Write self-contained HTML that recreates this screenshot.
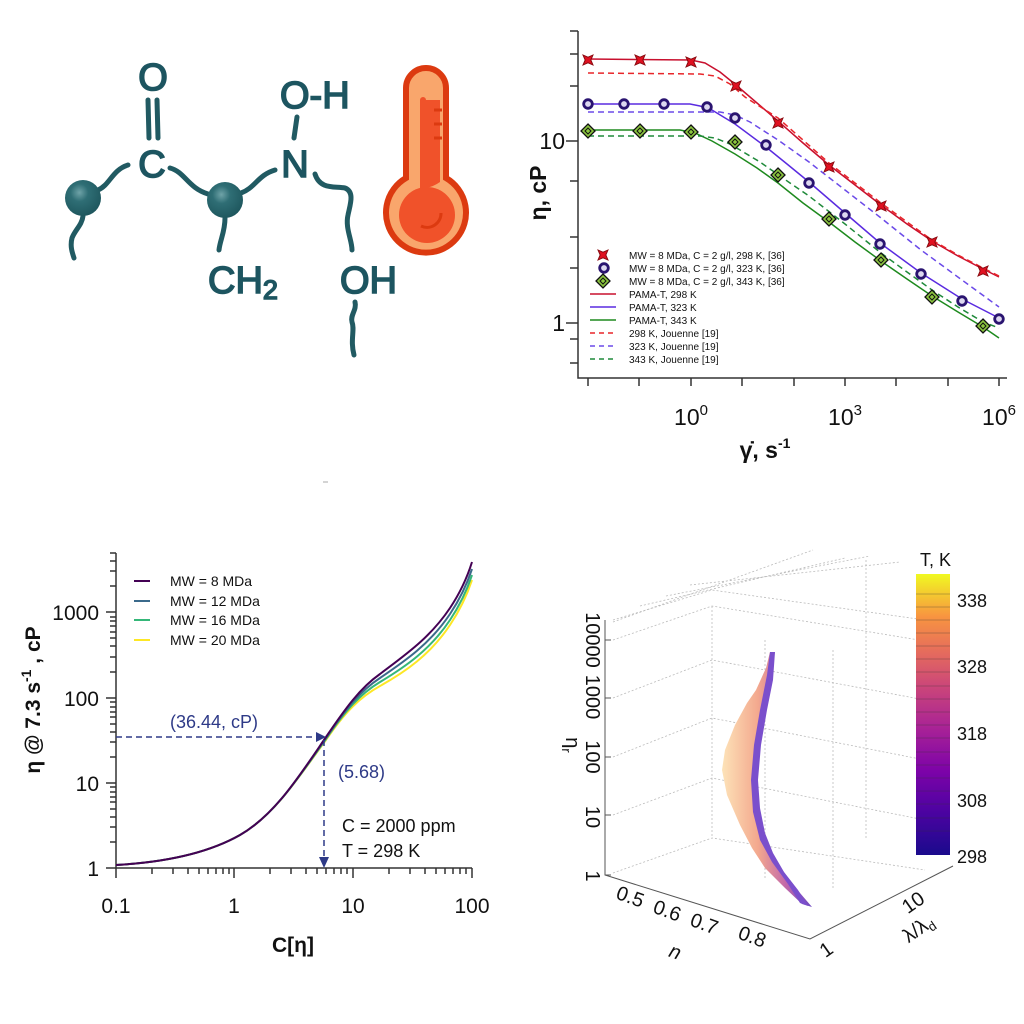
<!DOCTYPE html>
<html><head><meta charset="utf-8">
<style>
html,body{margin:0;padding:0;background:#fff;}
svg{display:block;font-family:"Liberation Sans",sans-serif;}
</style></head>
<body>
<svg width="1024" height="1024" viewBox="0 0 1024 1024" xmlns="http://www.w3.org/2000/svg">
<defs>
  <radialGradient id="ball" cx="0.4" cy="0.35" r="0.7">
    <stop offset="0" stop-color="#6fa3a8"/><stop offset="0.35" stop-color="#2f6e75"/><stop offset="1" stop-color="#1d555c"/>
  </radialGradient>
  <linearGradient id="cbar" x1="0" y1="1" x2="0" y2="0">
    <stop offset="0" stop-color="#1a0a8c"/><stop offset="0.15" stop-color="#4b03a1"/>
    <stop offset="0.3" stop-color="#7d03a8"/><stop offset="0.45" stop-color="#a82296"/>
    <stop offset="0.6" stop-color="#cb4679"/><stop offset="0.72" stop-color="#e56b5d"/>
    <stop offset="0.85" stop-color="#f89540"/><stop offset="1" stop-color="#f0f921"/>
  </linearGradient>
  <linearGradient id="rib" x1="0" y1="0" x2="1" y2="0">
    <stop offset="0" stop-color="#fde3b8"/><stop offset="0.4" stop-color="#f3a88e"/>
    <stop offset="0.7" stop-color="#c46aa8"/><stop offset="1" stop-color="#6b46c2"/>
  </linearGradient>
  <g id="star"><path d="M0,-7 L2,-2 L7,0 L2,2 L0,7 L-2,2 L-7,0 L-2,-2Z" transform="rotate(45)" fill="#e01020" stroke="#8a0a10" stroke-width="1"/></g>
  <g id="circ"><circle r="4.3" fill="#ddd8f0" stroke="#2a1470" stroke-width="2.8"/></g>
  <g id="dia"><path d="M0,-7 L7,0 L0,7 L-7,0Z" fill="#8cc63f" stroke="#111" stroke-width="1.3"/><path d="M0,-3 L3,0 L0,3 L-3,0Z" fill="none" stroke="#111" stroke-width="1"/></g>
</defs>

<!-- ===== Molecule ===== -->
<g stroke="#215a62" stroke-width="5" fill="none" stroke-linecap="round">
  <path d="M98,190 C110,185 112,170 128,165"/>
  <path d="M170,168 C185,172 188,188 208,194"/>
  <path d="M241,193 C255,188 258,175 275,170"/>
  <path d="M315,174 C320,190 335,186 345,188 C355,192 350,205 348,215 C345,228 352,240 352,250"/>
  <path d="M83,216 C82,225 75,230 72,238 C70,246 72,252 74,258"/>
  <path d="M225,218 C225,232 220,240 219,250"/>
  <path d="M148,100 L149,138 M157,100 L158,138"/>
  <path d="M297,117 L294,138"/>
  <path d="M355,302 C357,310 350,315 352,322 C355,330 350,340 354,355"/>
</g>
<circle cx="83" cy="198" r="18" fill="url(#ball)"/>
<circle cx="225" cy="200" r="18" fill="url(#ball)"/>
<g fill="#1d5560" stroke="#1d5560" stroke-width="1.6" font-size="38" font-family="'Liberation Sans',sans-serif">
  <text x="153" y="90" text-anchor="middle">O</text>
  <text x="152" y="177" text-anchor="middle">C</text>
  <text x="295" y="177" text-anchor="middle">N</text>
  <text x="280" y="108">O-H</text>
  <text x="208" y="293">CH<tspan font-size="27" dy="6">2</tspan></text>
  <text x="340" y="293">OH</text>
</g>
<!-- thermometer -->
<g>
  <path d="M406,88 a20,20 0 0 1 40,0 V178 a40,40 0 1 1 -40,0Z" fill="#f9a66c" stroke="#dc3a10" stroke-width="6"/>
  <path d="M420,100 a3,3 0 0 1 6,0 V190 a22,22 0 1 1 -6,0Z" fill="#f0522a"/>
  <path d="M426,100 H440 V182 a36,36 0 0 1 -14,6Z" fill="#f0522a"/>
  <circle cx="427" cy="215" r="28" fill="#f0522a"/>
  <path d="M434,110 h8 M434,124 h8 M434,138 h8" stroke="#dc3a10" stroke-width="3"/>
  <path d="M441,213 a14,14 0 0 1 -20,13" fill="none" stroke="#dc3a10" stroke-width="3"/>
</g>

<line x1="323" y1="482" x2="328" y2="482" stroke="#aaa" stroke-width="1"/>

<!-- ===== Top-right chart ===== -->
<g stroke="#333" stroke-width="1.5" fill="none">
  <path d="M578,31 V378 H1007"/>
  <path d="M570,31H578 M570,54H578 M570,86H578 M566,141H578 M570,181H578 M570,237H578 M570,268H578 M566,323H578 M570,339H578 M570,363H578"/>
  <path d="M588,378V386 M639,378V386 M691,378V386 M742,378V386 M794,378V386 M845,378V386 M896,378V386 M948,378V386 M999,378V386"/>
</g>
<g font-size="23" fill="#111">
  <text x="565" y="149" text-anchor="end">10</text>
  <text x="565" y="331" text-anchor="end">1</text>
  <text x="691" y="425" text-anchor="middle">10<tspan font-size="15" dy="-10">0</tspan></text>
  <text x="845" y="425" text-anchor="middle">10<tspan font-size="15" dy="-10">3</tspan></text>
  <text x="999" y="425" text-anchor="middle">10<tspan font-size="15" dy="-10">6</tspan></text>
  <text x="765" y="458" text-anchor="middle" font-weight="bold">γ̇, s<tspan font-size="14" dy="-10">-1</tspan></text>
  <text transform="translate(546,193) rotate(-90)" text-anchor="middle" font-weight="bold">η, cP</text>
</g>
<g fill="none" stroke-width="1.5">
  <polyline stroke="#c8102e" points="588,59 691,60 705,63 720,72 736,85 757,103 778,121 803,143 829,165 855,185 881,205 907,224 932,241 958,256 983,269 999,277"/>
  <polyline stroke="#e8252a" stroke-dasharray="6,4" points="588,73 700,74 715,76 730,84 745,97 778,118 803,140 829,163 855,183 881,203 907,222 932,240 958,255 983,268 999,276"/>
  <polyline stroke="#5a2be0" points="588,104 690,104 700,106 712,110 735,124 766,147 787,164 809,182 845,213 880,243 921,273 962,299 999,318"/>
  <polyline stroke="#6b4ae8" stroke-dasharray="6,4" points="588,112 720,112 735,115 750,122 778,140 809,162 845,190 881,218 921,250 962,280 999,307"/>
  <polyline stroke="#1e8a1e" points="588,130 680,130 695,133 712,141 735,154 757,168 778,183 803,203 829,222 855,242 881,261 907,279 932,296 958,312 983,327 999,338"/>
  <polyline stroke="#1f8a3a" stroke-dasharray="6,4" points="588,136 700,136 715,138 730,144 760,162 790,183 809,196 845,224 881,253 907,272 932,290 958,307 983,322 999,328"/>
</g>
<g>
  <use href="#star" x="588" y="60"/><use href="#star" x="640" y="60"/><use href="#star" x="691" y="62"/>
  <use href="#star" x="736" y="86"/><use href="#star" x="778" y="123"/><use href="#star" x="829" y="167"/>
  <use href="#star" x="881" y="206"/><use href="#star" x="932" y="242"/><use href="#star" x="983" y="271"/>
  <use href="#circ" x="588" y="104"/><use href="#circ" x="624" y="104"/><use href="#circ" x="664" y="104"/>
  <use href="#circ" x="707" y="107"/><use href="#circ" x="735" y="118"/><use href="#circ" x="766" y="145"/>
  <use href="#circ" x="809" y="183"/><use href="#circ" x="845" y="215"/><use href="#circ" x="880" y="244"/>
  <use href="#circ" x="921" y="274"/><use href="#circ" x="962" y="301"/><use href="#circ" x="999" y="319"/>
  <use href="#dia" x="588" y="131"/><use href="#dia" x="640" y="131"/><use href="#dia" x="691" y="132"/>
  <use href="#dia" x="735" y="142"/><use href="#dia" x="778" y="175"/><use href="#dia" x="829" y="219"/>
  <use href="#dia" x="881" y="260"/><use href="#dia" x="932" y="297"/><use href="#dia" x="983" y="326"/>
</g>
<g font-size="10" fill="#111">
  <use href="#star" x="603" y="255"/><use href="#circ" x="604" y="268"/><use href="#dia" x="603" y="281"/>
  <text x="629" y="259">MW = 8 MDa, C = 2 g/l, 298 K, [36]</text>
  <text x="629" y="272">MW = 8 MDa, C = 2 g/l, 323 K, [36]</text>
  <text x="629" y="285">MW = 8 MDa, C = 2 g/l, 343 K, [36]</text>
  <line x1="590" y1="294" x2="616" y2="294" stroke="#c8102e" stroke-width="1.5"/>
  <line x1="590" y1="307" x2="616" y2="307" stroke="#5a2be0" stroke-width="1.5"/>
  <line x1="590" y1="320" x2="616" y2="320" stroke="#1e8a1e" stroke-width="1.5"/>
  <line x1="590" y1="333" x2="616" y2="333" stroke="#e8252a" stroke-width="1.5" stroke-dasharray="5,4"/>
  <line x1="590" y1="346" x2="616" y2="346" stroke="#6b4ae8" stroke-width="1.5" stroke-dasharray="5,4"/>
  <line x1="590" y1="359" x2="616" y2="359" stroke="#1f8a3a" stroke-width="1.5" stroke-dasharray="5,4"/>
  <text x="629" y="298">PAMA-T, 298 K</text>
  <text x="629" y="311">PAMA-T, 323 K</text>
  <text x="629" y="324">PAMA-T, 343 K</text>
  <text x="629" y="337">298 K, Jouenne [19]</text>
  <text x="629" y="350">323 K, Jouenne [19]</text>
  <text x="629" y="363">343 K, Jouenne [19]</text>
</g>

<!-- ===== Bottom-left chart ===== -->
<g stroke="#333" stroke-width="1.5" fill="none">
  <path d="M116,553 V868 H472"/>
  <path d="M106,868H116 M110,842H116 M110,827H116 M110,817H116 M110,809H116 M110,802H116 M110,797H116 M110,792H116 M110,787H116 M106,783H116
           M110,757H116 M110,742H116 M110,732H116 M110,724H116 M110,717H116 M110,712H116 M110,707H116 M110,702H116 M106,698H116
           M110,672H116 M110,657H116 M110,646H116 M110,638H116 M110,632H116 M110,626H116 M110,621H116 M110,617H116 M106,612H116
           M110,586H116 M110,571H116 M110,561H116 M110,553H116"/>
  <path d="M116,868V878 M152,868V874 M173,868V874 M188,868V874 M199,868V874 M208,868V874 M216,868V874 M223,868V874 M229,868V874 M234,868V878
           M270,868V874 M291,868V874 M306,868V874 M317,868V874 M326,868V874 M334,868V874 M341,868V874 M347,868V874 M353,868V878
           M389,868V874 M410,868V874 M425,868V874 M436,868V874 M445,868V874 M453,868V874 M460,868V874 M466,868V874 M472,868V878"/>
</g>
<g font-size="21" fill="#111">
  <text x="99" y="876" text-anchor="end">1</text>
  <text x="99" y="791" text-anchor="end">10</text>
  <text x="99" y="706" text-anchor="end">100</text>
  <text x="99" y="620" text-anchor="end">1000</text>
  <text x="116" y="913" text-anchor="middle">0.1</text>
  <text x="234" y="913" text-anchor="middle">1</text>
  <text x="353" y="913" text-anchor="middle">10</text>
  <text x="472" y="913" text-anchor="middle">100</text>
  <text x="293" y="952" text-anchor="middle" font-weight="bold">C[η]</text>
  <text transform="translate(40,700) rotate(-90)" text-anchor="middle" font-weight="bold">η @ 7.3 s<tspan font-size="14" dy="-9">-1</tspan><tspan dy="9"> , cP</tspan></text>
</g>
<g fill="none" stroke-width="2">
  <path stroke="#fde725" d="M116,865 C170,862 210,852 240,835 C275,815 300,775 326,740 C345,712 360,697 380,686 C405,672 430,655 450,625 C460,610 467,595 472,580"/>
  <path stroke="#35b779" d="M116,865 C170,862 210,852 240,835 C275,815 300,775 326,739 C345,711 360,694 380,682 C405,667 430,650 450,620 C460,605 467,590 472,575"/>
  <path stroke="#3b6a8b" d="M116,865 C170,862 210,852 240,835 C275,815 300,775 326,738 C345,710 360,691 380,678 C405,661 430,644 450,614 C460,599 467,584 472,569"/>
  <path stroke="#440154" d="M116,865 C170,862 210,852 240,835 C275,815 300,775 326,737 C345,709 360,688 380,674 C405,655 430,638 450,608 C460,593 467,578 472,562"/>
</g>
<g stroke="#2e3a87" stroke-width="1.5" fill="none" stroke-dasharray="6,4">
  <line x1="116" y1="737" x2="316" y2="737"/>
  <line x1="324" y1="740" x2="324" y2="858"/>
</g>
<path d="M316,732 L326,737 L316,742Z M319,857 L324,868 L329,857Z" fill="#2e3a87"/>
<g font-size="18" fill="#2e3a87">
  <text x="170" y="728">(36.44, cP)</text>
  <text x="338" y="778">(5.68)</text>
</g>
<g font-size="18" fill="#111">
  <text x="342" y="832">C = 2000 ppm</text>
  <text x="342" y="857">T = 298 K</text>
</g>
<g font-size="14" fill="#111">
  <line x1="134" y1="581" x2="150" y2="581" stroke="#440154" stroke-width="2"/>
  <line x1="134" y1="601" x2="150" y2="601" stroke="#3b6a8b" stroke-width="2"/>
  <line x1="134" y1="620" x2="150" y2="620" stroke="#35b779" stroke-width="2"/>
  <line x1="134" y1="640" x2="150" y2="640" stroke="#fde725" stroke-width="2"/>
  <text x="170" y="586">MW = 8 MDa</text>
  <text x="170" y="606">MW = 12 MDa</text>
  <text x="170" y="625">MW = 16 MDa</text>
  <text x="170" y="645">MW = 20 MDa</text>
</g>

<!-- ===== 3D plot ===== -->
<g stroke="#bbb" stroke-width="0.8" fill="none" stroke-dasharray="2,2">
  <path d="M613,622 L813,550 M640,606 L845,558 M666,596 L870,556 M690,585 L900,562"/>
  <path d="M613,640 L712,606 L925,641 M613,698 L712,660 L925,700 M613,757 L712,718 L925,760 M613,815 L712,778 L925,820 M613,873 L712,838 L925,870"/>
  <path d="M712,606 V838 M765,640 V880 M833,650 V890 M866,560 V838"/>
  <path d="M613,620 L712,590 L925,620"/>
</g>
<g stroke="#555" stroke-width="1" fill="none">
  <path d="M605,620 V875 L810,939 L953,866"/>
  <path d="M605,640h6 M605,698h6 M605,757h6 M605,815h6 M605,875h6"/>
</g>
<g font-size="20" fill="#111">
  <text transform="translate(586,640) rotate(90)" text-anchor="middle">10000</text>
  <text transform="translate(586,697) rotate(90)" text-anchor="middle">1000</text>
  <text transform="translate(586,757) rotate(90)" text-anchor="middle">100</text>
  <text transform="translate(586,817) rotate(90)" text-anchor="middle">10</text>
  <text transform="translate(586,876) rotate(90)" text-anchor="middle">1</text>
  <text transform="translate(566,745) rotate(90)" text-anchor="middle">η<tspan font-size="13" dy="4">r</tspan></text>
  <text transform="translate(628,903) rotate(20)" text-anchor="middle">0.5</text>
  <text transform="translate(665,917) rotate(20)" text-anchor="middle">0.6</text>
  <text transform="translate(702,930) rotate(20)" text-anchor="middle">0.7</text>
  <text transform="translate(750,943) rotate(20)" text-anchor="middle">0.8</text>
  <text transform="translate(673,958) rotate(20)" text-anchor="middle" font-style="italic">n</text>
  <text transform="translate(917,908) rotate(-35)" text-anchor="middle">10</text>
  <text transform="translate(830,955) rotate(-35)" text-anchor="middle">1</text>
  <text transform="translate(922,934) rotate(-35)" text-anchor="middle">λ/λ<tspan font-size="13" dy="4">d</tspan></text>
</g>
<path d="M775,652 L770,652 L766,668 L756,690 L747,703 L735,725 L725,750 L722,770 L727,795 L740,825 L752,848 L765,868 L785,888 L802,904 L812,907 L800,893 L786,875 L772,855 L762,835 L756,810 L754,780 L757,745 L763,710 L770,680Z" fill="url(#rib)"/>
<path d="M775,652 L770,652 L767,675 L760,710 L754,745 L751,780 L753,812 L760,840 L772,862 L788,884 L800,903 L808,906 L798,890 L784,872 L773,853 L765,833 L760,808 L758,780 L761,745 L767,710 L773,680Z" fill="#7a4fcc"/>
<rect x="916" y="574" width="34" height="281" fill="url(#cbar)"/>
<g stroke="#333" stroke-width="0.5" opacity="0.6">
  <path d="M916,594h34 M916,607h34 M916,620h34 M916,633h34 M916,646h34 M916,659h34 M916,672h34 M916,686h34 M916,699h34 M916,712h34 M916,725h34 M916,738h34 M916,752h34 M916,765h34 M916,778h34 M916,791h34 M916,804h34 M916,818h34 M916,831h34"/>
</g>
<g font-size="18" fill="#111">
  <text x="920" y="566">T, K</text>
  <text x="957" y="607">338</text>
  <text x="957" y="673">328</text>
  <text x="957" y="740">318</text>
  <text x="957" y="807">308</text>
  <text x="957" y="863">298</text>
</g>
</svg>
</body></html>
